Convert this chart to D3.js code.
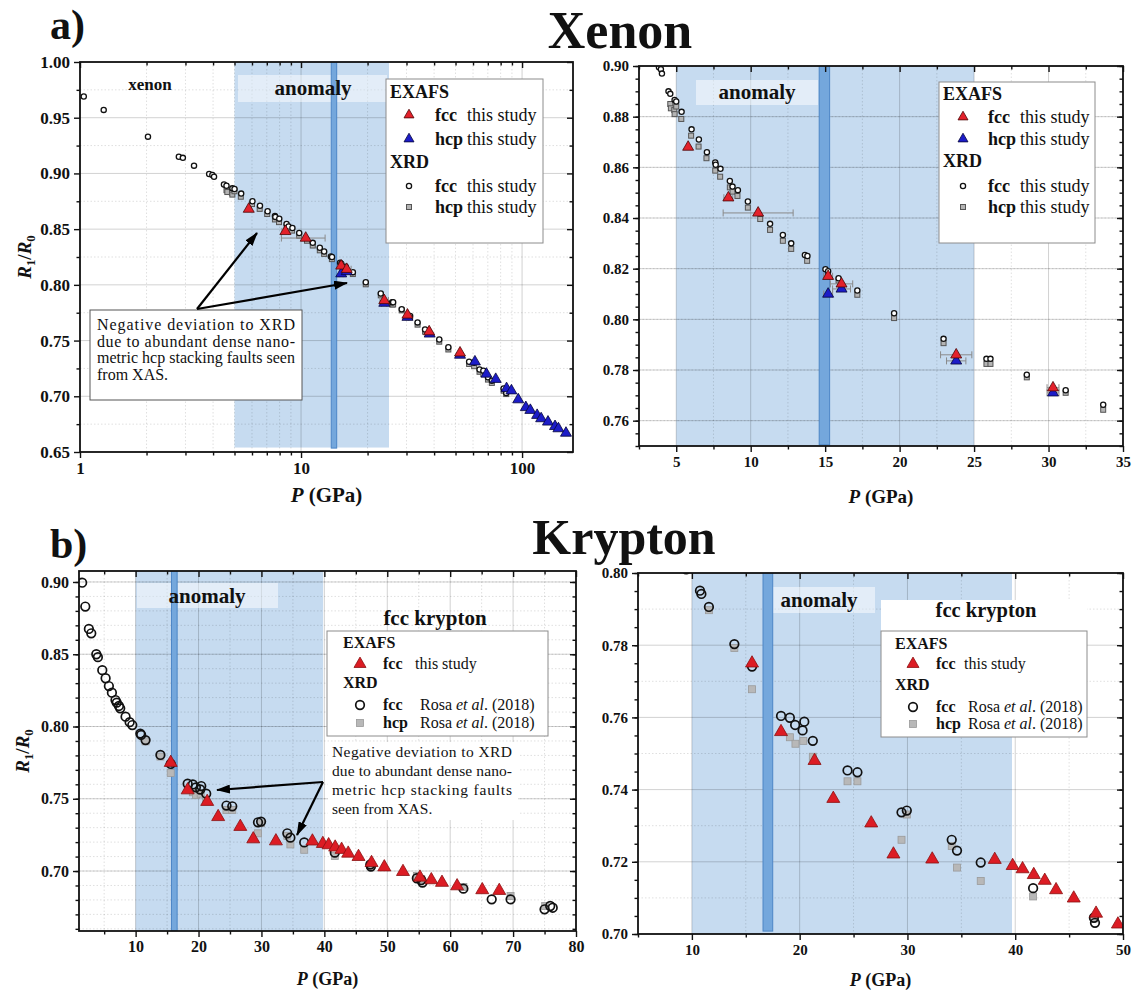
<!DOCTYPE html>
<html>
<head>
<meta charset="utf-8">
<script src="https://cdn.jsdelivr.net/npm/d3@7"></script>
<style>
  body { margin: 0; background: #fff; }
  svg { display: block; font-family: "Liberation Serif", "Times New Roman", serif; }
</style>
</head>
<body>
<svg id="fig" width="1135" height="993"></svg>
<script>
'use strict';

const SERIF = '"Liberation Serif","Times New Roman",serif';

// ─── Xenon: [P (GPa), R1/R0] ───────────────────────────────────────────────
const xeXrdFcc = [
  [1.04, 0.969], [1.28, 0.957], [2.03, 0.933], [2.80, 0.915], [2.92, 0.914], [3.28, 0.907],
  [3.84, 0.8995], [3.97, 0.8987], [4.04, 0.897], [4.48, 0.890], [4.6, 0.889], [4.89, 0.8866],
  [5.0, 0.886], [5.36, 0.8819], [6.03, 0.875], [6.52, 0.871], [7.06, 0.866], [7.62, 0.8619],
  [7.65, 0.861], [7.97, 0.8594], [8.6, 0.8546], [8.78, 0.8524], [9.14, 0.851], [9.81, 0.8465],
  [11.3, 0.8377], [12.16, 0.8333], [12.72, 0.830], [13.64, 0.8254], [13.81, 0.825], [15.02, 0.8198],
  [15.2, 0.819], [15.9, 0.8162], [17.16, 0.8114], [19.63, 0.8024], [22.95, 0.7923], [25.83, 0.7844],
  [26.1, 0.7844], [28.54, 0.7781], [31.15, 0.772], [33.67, 0.7663],
  [36.4, 0.760], [42.2, 0.751], [46.4, 0.744], [57.6, 0.731], [60.7, 0.730], [64.2, 0.724],
  [66.8, 0.723], [70.1, 0.717], [73.0, 0.714], [82.5, 0.707], [84.8, 0.703]
];
const xeXrdHcp = [
  [4.6, 0.885], [4.64, 0.8833], [4.87, 0.8826], [4.89, 0.881], [5.0, 0.884], [5.34, 0.8791],
  [6.0, 0.8725], [6.5, 0.8682], [7.03, 0.8636], [7.62, 0.8587], [7.95, 0.8563], [8.6, 0.8521],
  [8.78, 0.8504], [9.11, 0.8487], [9.81, 0.8441], [10.64, 0.8396], [11.3, 0.8353], [12.16, 0.831],
  [12.72, 0.8278], [13.79, 0.8231], [15.19, 0.8173], [15.9, 0.8153], [17.16, 0.8097], [19.63, 0.8005],
  [22.95, 0.7906], [25.83, 0.7824], [26.1, 0.7824], [28.54, 0.7771], [31.15, 0.771], [33.67, 0.7643],
  [36.4, 0.758], [42.2, 0.749], [46.4, 0.742], [57.6, 0.729], [60.7, 0.727], [64.2, 0.722],
  [66.8, 0.720], [70.1, 0.715], [73.0, 0.712], [82.5, 0.705], [84.8, 0.702]
];
const xeExafsFcc    = [[5.8, 0.868], [8.5, 0.848], [10.5, 0.842], [15.2, 0.817], [16.1, 0.814], [23.8, 0.786], [30.3, 0.773], [38.0, 0.758], [52.4, 0.739]];
const xeExafsFccErr = [0, 0.3, 2.35, 0.3, 0.75, 1.05, 0.4, 0, 0];
const xeExafsHcp    = [
  [15.2, 0.810], [16.1, 0.812], [23.8, 0.7836], [30.3, 0.771], [38.2, 0.756], [52.4, 0.737],
  [61.2, 0.731], [69.0, 0.720], [76.0, 0.7153], [85.1, 0.707], [89.5, 0.705], [96.1, 0.697],
  [104, 0.690], [109, 0.6875], [117, 0.683], [122, 0.680], [131, 0.677], [141, 0.673],
  [146, 0.671], [158, 0.667]
];
const xeExafsHcpErr = [0.3, 0.6, 0.65, 0.4, 0, 0, 0, 0, 0, 0, 0, 0, 0, 0, 0, 0, 0, 0, 0, 0];

// ─── Krypton: [P (GPa), R1/R0] ─────────────────────────────────────────────
const krXrdFcc = [
  [1.5, 0.8995], [2.0, 0.883], [2.57, 0.8675], [2.95, 0.8645], [3.75, 0.850], [4.0, 0.848],
  [4.7, 0.839], [5.23, 0.8334], [5.75, 0.828], [6.23, 0.8234], [6.8, 0.8183], [7.0, 0.8165],
  [7.35, 0.8142], [7.55, 0.8126], [8.4, 0.8068], [9.05, 0.803], [9.47, 0.801],
  [10.75, 0.7951], [10.88, 0.7942], [11.58, 0.7906], [13.94, 0.7803], [15.58, 0.7741],
  [18.27, 0.7604], [19.09, 0.7599], [19.58, 0.7579], [20.43, 0.7588], [20.27, 0.7564],
  [21.22, 0.7535], [24.44, 0.7453], [25.36, 0.7448], [29.45, 0.7337], [29.94, 0.7342],
  [34.11, 0.7261], [34.6, 0.7231], [36.8, 0.7198], [41.66, 0.7127], [47.3, 0.7045], [47.4, 0.7031],
  [54.7, 0.695], [55.4, 0.6938], [55.6, 0.692], [62.1, 0.6878], [66.6, 0.6804], [69.6, 0.6804],
  [75.0, 0.6735], [75.9, 0.6758], [76.3, 0.6746]
];
const krXrdHcp = [
  [11.58, 0.7897], [13.94, 0.7792], [15.58, 0.7678], [19.09, 0.7545], [19.61, 0.7527],
  [20.34, 0.7535], [21.22, 0.7491], [24.44, 0.7423], [25.36, 0.7423], [29.94, 0.7331],
  [29.45, 0.7261], [34.11, 0.7244], [34.6, 0.7184], [36.8, 0.7147], [41.66, 0.7104],
  [47.3, 0.7043], [54.7, 0.6966], [55.4, 0.6945], [62.1, 0.689], [69.6, 0.6827], [75.1, 0.6758]
];
const krExafsFcc = [
  [15.58, 0.775], [18.27, 0.756], [21.38, 0.748], [23.12, 0.7375], [26.64, 0.7307], [28.7, 0.7221],
  [32.3, 0.7207], [38.1, 0.7206], [39.76, 0.7189], [40.68, 0.718], [41.72, 0.7164], [42.74, 0.7148],
  [43.79, 0.7122], [45.43, 0.7099], [47.5, 0.7057], [49.53, 0.7027], [52.5, 0.6995], [55.2, 0.6956],
  [57.0, 0.6938], [58.7, 0.692], [61.1, 0.6896], [65.1, 0.6869], [67.8, 0.6864]
];

// ─── Ticks ────────────────────────────────────────────────────────────────
const aXMajor = [1, 10, 100];
const aXMinor = [2, 3, 4, 5, 6, 7, 8, 9, 20, 30, 40, 50, 60, 70, 80, 90];
const aYMajor = [0.65, 0.70, 0.75, 0.80, 0.85, 0.90, 0.95, 1.00];
const bXMajor = [5, 10, 15, 20, 25, 30, 35];
const bYMajor = [0.76, 0.78, 0.80, 0.82, 0.84, 0.86, 0.88, 0.90];
const cXMajor = [10, 20, 30, 40, 50, 60, 70, 80];
const cYMajor = [0.70, 0.75, 0.80, 0.85, 0.90];
const dXMajor = [10, 20, 30, 40, 50];
const dYMajor = [0.70, 0.72, 0.74, 0.76, 0.78, 0.80];

const svg  = d3.select('#fig');
const defs = svg.append('defs');
defs.append('marker').attr('id', 'arrow').attr('viewBox', '0 0 14 9')
  .attr('refX', 13).attr('refY', 4.5).attr('markerWidth', 14).attr('markerHeight', 9)
  .attr('markerUnits', 'userSpaceOnUse').attr('orient', 'auto')
  .append('path').attr('d', 'M0,0 L14,4.5 L0,9 z').attr('fill', '#000');

const steps = (a, b, s) => d3.range(Math.round((b - a) / s) + 1).map(i => +(a + i * s).toFixed(4));

// ─── helpers ──────────────────────────────────────────────────────────────
function rich(g, x, y, parts, size, anchor) {
  const t = g.append('text').attr('x', x).attr('y', y).attr('font-size', size)
    .attr('font-family', SERIF).attr('text-anchor', anchor || 'start').attr('fill', '#111');
  parts.forEach(([s, w, st, sub]) => {
    const sp = t.append('tspan').text(s).attr('font-weight', w || 'normal')
      .attr('font-style', st || 'normal');
    if (sub) sp.attr('font-size', size * 0.68).attr('dy', size * 0.22);
    else if (sub === false) sp.attr('dy', -size * 0.22);
  });
  return t;
}

function triangle(g, cx, cy, side, fill, stroke) {
  g.append('path')
    .attr('d', d3.symbol(d3.symbolTriangle, side * side * Math.sqrt(3) / 4)())
    .attr('transform', `translate(${cx},${cy})`)
    .attr('fill', fill).attr('stroke', stroke).attr('stroke-width', 0.8);
}

function drawPanel(p) {
  const x = (p.log ? d3.scaleLog() : d3.scaleLinear()).domain(p.xDomain).range([p.left, p.right]);
  const y = d3.scaleLinear().domain(p.yDomain).range([p.bottom, p.top]);
  const g = svg.append('g');
  defs.append('clipPath').attr('id', 'clip-' + p.id).append('rect')
    .attr('x', p.left).attr('y', p.top).attr('width', p.right - p.left).attr('height', p.bottom - p.top);
  const inner = g.append('g').attr('clip-path', `url(#clip-${p.id})`);

  // anomaly band
  inner.append('rect').attr('x', x(p.band[0])).attr('y', p.top)
    .attr('width', x(p.band[1]) - x(p.band[0])).attr('height', y(p.bandFloor) - p.top)
    .attr('fill', '#c6dbf0');

  // grid
  const grid = inner.append('g');
  const vline = (v, cls) => grid.append('line').attr('x1', x(v)).attr('x2', x(v))
    .attr('y1', p.top).attr('y2', p.bottom).attr('class', cls);
  const hline = (v, cls) => grid.append('line').attr('y1', y(v)).attr('y2', y(v))
    .attr('x1', p.left).attr('x2', p.right).attr('class', cls);
  p.xGridMinor.forEach(v => vline(v, 'gmin'));
  p.yGridMinor.forEach(v => hline(v, 'gmin'));
  p.xMajor.forEach(v => vline(v, 'gmaj'));
  p.yMajor.forEach(v => hline(v, 'gmaj'));
  grid.selectAll('.gmin').attr('stroke', 'rgba(0,0,0,0.16)').attr('stroke-width', 0.8).attr('stroke-dasharray', '1.5,2');
  grid.selectAll('.gmaj').attr('stroke', 'rgba(0,0,0,0.18)').attr('stroke-width', 1);

  // anomaly label box, dark bar, text
  const ab = p.anomBox;
  inner.append('rect').attr('x', ab[0]).attr('y', ab[1]).attr('width', ab[2]).attr('height', ab[3])
    .attr('fill', 'rgba(255,255,255,0.5)');
  inner.append('rect').attr('x', x(p.bar[0])).attr('y', p.top - 2)
    .attr('width', x(p.bar[1]) - x(p.bar[0])).attr('height', y(p.barFloor) - p.top + 2)
    .attr('fill', '#74a7dc').attr('stroke', '#4d86c6').attr('stroke-width', 1);
  rich(g, p.anomText[0], p.anomText[1], [['anomaly', 'bold']], 21, 'middle');

  if (p.extra) p.extra(g, x, y);

  // data
  const inside = d => d[0] >= p.xDomain[0] && d[0] <= p.xDomain[1] && d[1] >= p.yDomain[0] - 0.002 && d[1] <= p.yDomain[1] + 0.002;
  const m = p.marks;
  const data = inner.append('g');
  p.squares.filter(inside).forEach(d => data.append('rect')
    .attr('x', x(d[0]) - m.sq / 2).attr('y', y(d[1]) - m.sq / 2).attr('width', m.sq).attr('height', m.sq)
    .attr('fill', m.sqFill).attr('stroke', m.sqStroke).attr('stroke-width', m.sqSw));
  p.circles.filter(inside).forEach(d => data.append('circle')
    .attr('cx', x(d[0])).attr('cy', y(d[1])).attr('r', m.r)
    .attr('fill', m.cFill).attr('stroke', '#111').attr('stroke-width', m.cSw));
  (p.triSets || []).forEach(set => {
    set.pts.forEach((d, i) => {
      if (!inside(d)) return;
      const e = set.err ? set.err[i] : 0;
      if (e) {
        const yy = y(d[1]);
        data.append('path').attr('d', `M${x(d[0] - e)},${yy}H${x(d[0] + e)}M${x(d[0] - e)},${yy - 3.5}v7M${x(d[0] + e)},${yy - 3.5}v7`)
          .attr('stroke', '#8a8a8a').attr('stroke-width', 1).attr('fill', 'none');
      }
    });
  });
  (p.triSets || []).forEach(set => set.pts.filter(inside).forEach(d =>
    triangle(data, x(d[0]), y(d[1]), m.tri, set.fill, set.stroke)));

  // frame and axes
  g.append('rect').attr('x', p.left).attr('y', p.top).attr('width', p.right - p.left)
    .attr('height', p.bottom - p.top).attr('fill', 'none').attr('stroke', '#111').attr('stroke-width', 1.8);
  const axis = (gen, tr, vals, size, fmt) => {
    const a = g.append('g').attr('transform', tr)
      .call(gen.tickValues(vals).tickSize(size).tickPadding(4).tickFormat(fmt || ''));
    a.attr('font-family', SERIF);
    a.select('.domain').remove();
    a.selectAll('line').attr('stroke', '#111').attr('stroke-width', 1.4);
    a.selectAll('text').attr('font-family', SERIF)
      .attr('font-weight', 'bold').attr('font-size', p.tickFont).attr('fill', '#111');
    return a;
  };
  const xMinorTicks = p.xMinor.filter(v => v >= p.xDomain[0] && v <= p.xDomain[1]);
  const yMinorTicks = p.yMinor;
  axis(d3.axisBottom(x), `translate(0,${p.bottom})`, p.xMajor, 6, p.xFmt);
  axis(d3.axisBottom(x), `translate(0,${p.bottom})`, xMinorTicks, 3.5);
  axis(d3.axisTop(x), `translate(0,${p.top})`, p.xMajor, -6);
  axis(d3.axisTop(x), `translate(0,${p.top})`, xMinorTicks, -3.5);
  axis(d3.axisLeft(y), `translate(${p.left},0)`, p.yMajor, 6, d => d.toFixed(2));
  axis(d3.axisLeft(y), `translate(${p.left},0)`, yMinorTicks, 3.5);
  axis(d3.axisRight(y), `translate(${p.right},0)`, p.yMajor, -6);
  axis(d3.axisRight(y), `translate(${p.right},0)`, yMinorTicks, -3.5);

  // axis titles
  const xl = p.xLabel;
  rich(g, (p.left + p.right) / 2, xl[0], [['P', 'bold', 'italic'], [' (GPa)', 'bold']], xl[1], 'middle');
  if (p.yLabel) {
    const yl = p.yLabel;
    rich(g, 0, 0, [['R', 'bold', 'italic'], ['1', 'bold', 'normal', true], ['/', 'bold', 'normal', false],
      ['R', 'bold', 'italic'], ['0', 'bold', 'normal', true]], yl[1], 'middle')
      .attr('transform', `translate(${yl[0]},${(p.top + p.bottom) / 2}) rotate(-90)`);
  }

  // legend
  const L = p.legend;
  const lg = g.append('g');
  lg.append('rect').attr('x', L.box[0]).attr('y', L.box[1]).attr('width', L.box[2]).attr('height', L.box[3])
    .attr('fill', '#fff').attr('stroke', '#8c8c8c').attr('stroke-width', 1);
  L.heads.forEach(h => rich(lg, L.box[0] + L.headX, h[1], [[h[0], 'bold']], L.font));
  L.rows.forEach(r => {
    const cy = r.y;
    if (r.sym === 'tri') triangle(lg, L.symX, cy, L.triSize, r.fill, r.stroke);
    if (r.sym === 'circ') lg.append('circle').attr('cx', L.symX).attr('cy', cy).attr('r', m.r)
      .attr('fill', m.cFill).attr('stroke', '#111').attr('stroke-width', m.cSw);
    if (r.sym === 'sq') lg.append('rect').attr('x', L.symX - m.sq / 2).attr('y', cy - m.sq / 2)
      .attr('width', m.sq).attr('height', m.sq).attr('fill', m.sqFill).attr('stroke', m.sqStroke).attr('stroke-width', m.sqSw);
    rich(lg, L.nameX, cy + L.font * 0.33, [[r.name, 'bold']], L.font);
    rich(lg, r.srcX, cy + L.font * 0.33, r.src, L.font);
  });
}

const thisStudy = [['this study']];
const rosa = [['Rosa '], ['et al', 'normal', 'italic'], ['. (2018)']];
const xeMarks = { r: 2.6, cFill: '#fff', cSw: 1.3, sq: 5, sqFill: '#b4b4b4', sqStroke: '#555', sqSw: 1, tri: 11 };
const krMarks = { r: 4.3, cFill: 'none', cSw: 1.7, sq: 7, sqFill: '#b8b8b8', sqStroke: '#9a9a9a', sqSw: 0.8, tri: 13 };
const xeTri = [
  { pts: xeExafsHcp, err: xeExafsHcpErr, fill: '#1c1cc8', stroke: '#05053a' },
  { pts: xeExafsFcc, err: xeExafsFccErr, fill: '#e3212b', stroke: '#4a0505' }
];
const krTri = [{ pts: krExafsFcc, fill: '#dc1c24', stroke: '#8a1010' }];

// ─── a) Xenon, log scale ──────────────────────────────────────────────────
drawPanel({
  id: 'a', log: true, left: 80, right: 573, top: 62, bottom: 452,
  xDomain: [1, 170], yDomain: [0.65, 1.00],
  xMajor: aXMajor, xMinor: aXMinor, xGridMinor: aXMinor, xFmt: d => String(d),
  yMajor: aYMajor, yMinor: steps(0.675, 0.975, 0.05), yGridMinor: steps(0.675, 0.975, 0.05),
  tickFont: 17, xLabel: [502, 21], yLabel: [31, 19],
  band: [5, 25], bandFloor: 0.654, bar: [13.7, 14.5], barFloor: 0.6535,
  anomBox: [238, 75, 149, 27], anomText: [313, 95],
  squares: xeXrdHcp, circles: xeXrdFcc, triSets: xeTri, marks: xeMarks,
  extra: (g) => {
    rich(g, 150, 90, [['xenon', 'bold']], 17, 'middle');
  },
  legend: {
    box: [386, 79, 157, 164], headX: 4, font: 18, symX: 409, nameX: 435, triSize: 10,
    heads: [['EXAFS', 98], ['XRD', 168]],
    rows: [
      { y: 115, sym: 'tri', fill: '#e3212b', stroke: '#4a0505', name: 'fcc', srcX: 467, src: thisStudy },
      { y: 139, sym: 'tri', fill: '#1c1cc8', stroke: '#05053a', name: 'hcp', srcX: 467, src: thisStudy },
      { y: 186, sym: 'circ', name: 'fcc', srcX: 467, src: thisStudy },
      { y: 207, sym: 'sq', name: 'hcp', srcX: 467, src: thisStudy }
    ]
  }
});

// annotation a)
{
  const g = svg.append('g');
  g.append('rect').attr('x', 90).attr('y', 310).attr('width', 212).attr('height', 90)
    .attr('fill', '#fff').attr('stroke', '#555').attr('stroke-width', 1);
  const lines = ['Negative deviation to XRD', 'due to abundant dense nano-', 'metric hcp stacking faults seen', 'from XAS.'];
  lines.forEach((s, i) => {
    const t = g.append('text').attr('x', 97).attr('y', 330 + i * 16.7).attr('font-size', 16)
      .attr('font-family', SERIF).attr('fill', '#111').text(s);
    if (i < 3) t.attr('textLength', 198).attr('lengthAdjust', 'spacing');
  });
  [[257, 233], [347, 283]].forEach(([tx, ty]) => g.append('line')
    .attr('x1', 197).attr('y1', 309).attr('x2', tx).attr('y2', ty)
    .attr('stroke', '#000').attr('stroke-width', 2.2).attr('marker-end', 'url(#arrow)'));
}

// ─── a) Xenon, linear scale ───────────────────────────────────────────────
drawPanel({
  id: 'b', log: false, left: 639, right: 1123, top: 66, bottom: 446,
  xDomain: [2.5, 35], yDomain: [0.75, 0.90],
  xMajor: bXMajor, xMinor: steps(2.5, 32.5, 5), xGridMinor: steps(2.5, 32.5, 5), xFmt: d => String(d),
  yMajor: bYMajor, yMinor: steps(0.75, 0.90, 0.005), yGridMinor: steps(0.75, 0.89, 0.02).map(v => +(v + 0.01).toFixed(3)),
  tickFont: 15, xLabel: [503, 19], yLabel: null,
  band: [5, 25], bandFloor: 0.75, bar: [14.6, 15.3], barFloor: 0.7505,
  anomBox: [696, 80, 122, 25], anomText: [757, 99],
  squares: xeXrdHcp, circles: xeXrdFcc, triSets: xeTri, marks: xeMarks,
  legend: {
    box: [939, 82, 156, 161], headX: 4, font: 18, symX: 963, nameX: 988, triSize: 10,
    heads: [['EXAFS', 100], ['XRD', 167]],
    rows: [
      { y: 117, sym: 'tri', fill: '#e3212b', stroke: '#4a0505', name: 'fcc', srcX: 1020, src: thisStudy },
      { y: 139, sym: 'tri', fill: '#1c1cc8', stroke: '#05053a', name: 'hcp', srcX: 1020, src: thisStudy },
      { y: 186, sym: 'circ', name: 'fcc', srcX: 1020, src: thisStudy },
      { y: 207, sym: 'sq', name: 'hcp', srcX: 1020, src: thisStudy }
    ]
  }
});

// ─── b) Krypton, full range ───────────────────────────────────────────────
drawPanel({
  id: 'c', log: false, left: 79, right: 576, top: 571, bottom: 931,
  xDomain: [1, 80], yDomain: [0.6585, 0.9076],
  xMajor: cXMajor, xMinor: steps(5, 75, 10), xGridMinor: steps(5, 75, 10), xFmt: d => String(d),
  yMajor: cYMajor, yMinor: steps(0.66, 0.90, 0.01), yGridMinor: steps(0.66, 0.90, 0.01),
  tickFont: 16, xLabel: [985, 18], yLabel: [29, 19],
  band: [10, 39.8], bandFloor: 0.6585, bar: [15.7, 16.6], barFloor: 0.6585,
  anomBox: [137, 583, 141, 25], anomText: [207, 603],
  squares: krXrdHcp, circles: krXrdFcc, triSets: krTri, marks: krMarks,
  extra: (g) => {
    rich(g, 435, 625, [['fcc krypton', 'bold']], 21, 'middle');
  },
  legend: {
    box: [327, 631, 221, 105], headX: 16, font: 16, symX: 360, nameX: 383, triSize: 12,
    heads: [['EXAFS', 648], ['XRD', 688]],
    rows: [
      { y: 664, sym: 'tri', fill: '#dc1c24', stroke: '#8a1010', name: 'fcc', srcX: 415, src: thisStudy },
      { y: 705, sym: 'circ', name: 'fcc', srcX: 420, src: rosa },
      { y: 723, sym: 'sq', name: 'hcp', srcX: 420, src: rosa }
    ]
  }
});

// annotation b)
{
  const g = svg.append('g');
  g.append('rect').attr('x', 328).attr('y', 742).attr('width', 190).attr('height', 78).attr('fill', '#fff');
  const lines = ['Negative deviation to XRD', 'due to abundant dense nano-', 'metric hcp stacking faults', 'seen from XAS.'];
  lines.forEach((s, i) => {
    const t = g.append('text').attr('x', 332).attr('y', 757 + i * 19).attr('font-size', 15.5)
      .attr('font-family', SERIF).attr('fill', '#111').text(s);
    if (i < 3) t.attr('textLength', 180).attr('lengthAdjust', 'spacing');
  });
  [[217, 790], [297, 835]].forEach(([tx, ty]) => g.append('line')
    .attr('x1', 323).attr('y1', 782).attr('x2', tx).attr('y2', ty)
    .attr('stroke', '#000').attr('stroke-width', 2.2).attr('marker-end', 'url(#arrow)'));
}

// ─── b) Krypton, zoom ─────────────────────────────────────────────────────
drawPanel({
  id: 'd', log: false, left: 638, right: 1123, top: 573, bottom: 934,
  xDomain: [5, 50], yDomain: [0.70, 0.80],
  xMajor: dXMajor, xMinor: steps(5, 45, 10), xGridMinor: steps(15, 45, 10), xFmt: d => String(d),
  yMajor: dYMajor, yMinor: steps(0.70, 0.80, 0.005), yGridMinor: steps(0.71, 0.79, 0.02),
  tickFont: 15, xLabel: [986, 18], yLabel: null,
  band: [10, 39.7], bandFloor: 0.70, bar: [16.6, 17.5], barFloor: 0.7008,
  anomBox: [773, 587, 102, 26], anomText: [819, 607],
  squares: krXrdHcp, circles: krXrdFcc, triSets: krTri, marks: krMarks,
  extra: (g) => {
    g.append('rect').attr('x', 881).attr('y', 600).attr('width', 206).attr('height', 31).attr('fill', '#fff');
    rich(g, 986, 617, [['fcc krypton', 'bold']], 20.5, 'middle');
  },
  legend: {
    box: [881, 631, 206, 106], headX: 14, font: 16, symX: 913, nameX: 936, triSize: 12,
    heads: [['EXAFS', 649], ['XRD', 690]],
    rows: [
      { y: 664, sym: 'tri', fill: '#dc1c24', stroke: '#8a1010', name: 'fcc', srcX: 964, src: thisStudy },
      { y: 707, sym: 'circ', name: 'fcc', srcX: 968, src: rosa },
      { y: 724, sym: 'sq', name: 'hcp', srcX: 968, src: rosa }
    ]
  }
});

// ─── figure titles ────────────────────────────────────────────────────────
rich(svg, 50, 39, [['a)', 'bold']], 42);
rich(svg, 620, 48, [['Xenon', 'bold']], 52, 'middle');
rich(svg, 50, 558, [['b)', 'bold']], 42);
rich(svg, 624, 554, [['Krypton', 'bold']], 50, 'middle');
</script>
</body>
</html>
